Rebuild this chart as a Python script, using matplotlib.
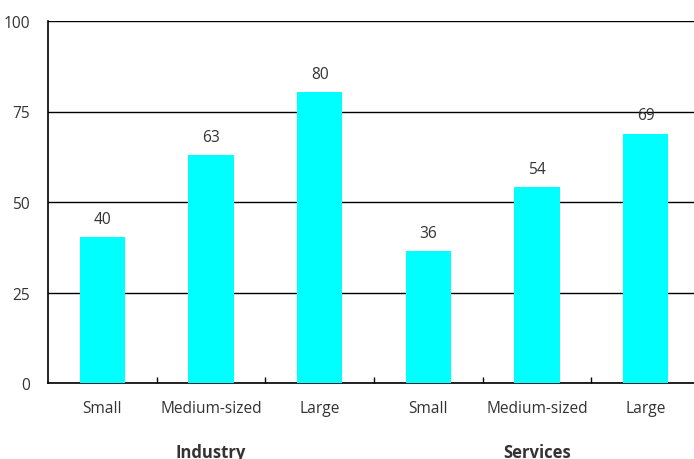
import matplotlib.pyplot as plt

# -------------------------
# DATA
# -------------------------
categories = ["Small", "Medium-sized", "Large", "Small", "Medium-sized", "Large"]
values = [40.4, 62.9, 80.3, 36.4, 54.1, 68.9]
labels = ["40", "63", "80", "36", "54", "69"]
groups = ["Industry", "Services"]
yticks = [0, 25, 50, 75, 100]

plt.rcParams["font.family"] = ["Open Sans", "DejaVu Sans"]
TXT = "#333333"

fig = plt.figure(figsize=(6.94, 4.60), dpi=100)
ax = fig.add_axes([48 / 694, 76 / 460, 652 / 694, 362 / 460])

x = list(range(len(categories)))
ax.bar(x, values, width=0.42, color="#00ffff", zorder=3)

for xi, v, lab in zip(x, values, labels):
    ax.text(xi, v + 2.8, lab, ha="center", va="bottom", fontsize=11.2, color=TXT)

ax.set_xlim(-0.5, 5.5)
ax.set_ylim(0, 100)
ax.set_yticks(yticks)
ax.set_yticklabels([str(t) for t in yticks], fontsize=11.2, color=TXT)
ax.tick_params(axis="y", length=0, pad=13)
ax.yaxis.grid(True, color="black", linewidth=1, zorder=0)

# ticks between categories, pointing up
ax.set_xticks([i + 0.5 for i in range(5)])
ax.set_xticklabels([])
ax.tick_params(axis="x", direction="in", length=4, width=1, color="black")
for xi, c in zip(x, categories):
    ax.text(xi, -4.6, c, ha="center", va="top", fontsize=11.2, color=TXT,
            clip_on=False)
for i, g in enumerate(groups):
    ax.text(1 + 3 * i, -16.6, g, ha="center", va="top", fontsize=12,
            fontweight="bold", color=TXT, clip_on=False)

for s in ["top", "right"]:
    ax.spines[s].set_visible(False)
ax.spines["left"].set_linewidth(1.2)
ax.spines["bottom"].set_linewidth(1.2)

fig.savefig("out.png", dpi=100)
